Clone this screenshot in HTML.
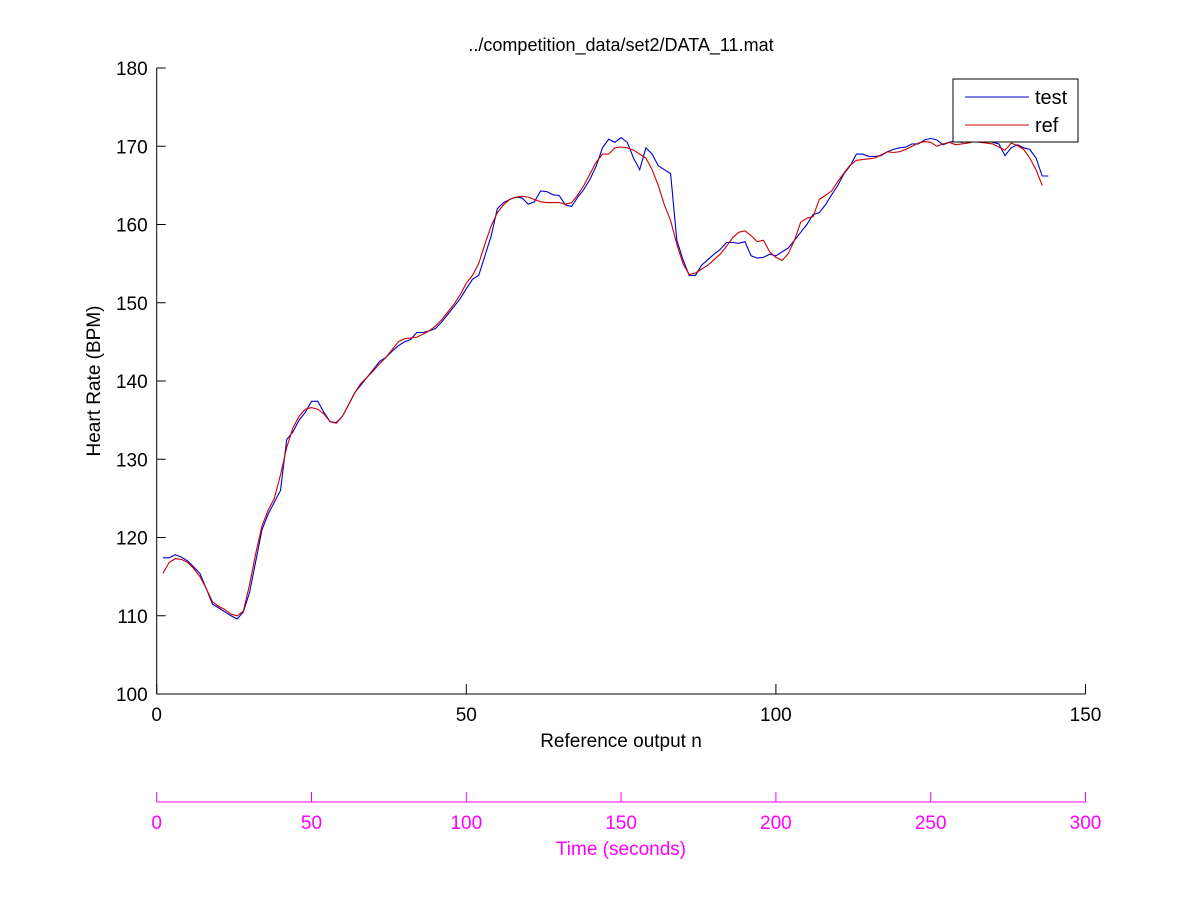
<!DOCTYPE html>
<html><head><meta charset="utf-8"><style>
body{margin:0;background:#fff}
svg text{font-family:"Liberation Sans",Arial,sans-serif}
</style></head><body>
<svg id="chart" width="1201" height="901" xmlns="http://www.w3.org/2000/svg" style="display:block">
<rect width="1201" height="901" fill="#fff"/>
<text x="621" y="51" font-size="18" text-anchor="middle">../competition_data/set2/DATA_11.mat</text>
<g id="axes"></g>
<g id="series"></g>
<g>
<rect x="953" y="79" width="125" height="63" fill="#fff" stroke="#000" stroke-width="1"/>
<line x1="965" y1="97" x2="1029" y2="97" stroke="#0000cc" stroke-width="1"/>
<text x="1035" y="104" font-size="20">test</text>
<line x1="965" y1="125" x2="1029" y2="125" stroke="#cc0000" stroke-width="1"/>
<text x="1035" y="132" font-size="20">ref</text>
</g>
</svg>
<script>
const xTicks=[0,50,100,150];
const yTicks=[100,110,120,130,140,150,160,170,180];
const timeTicks=[0,50,100,150,200,250,300];
const testValues=[117.4,117.4,117.8,117.5,117,116.2,115.4,113.5,111.5,111,110.5,110,109.6,110.5,113,117,121,123,124.5,126,132.5,133.5,135,136,137.4,137.4,136,134.8,134.7,135.5,137,138.5,139.5,140.5,141.5,142.5,143,143.8,144.5,145,145.3,146.2,146.2,146.4,146.7,147.5,148.5,149.5,150.5,151.8,153,153.5,156,158.5,162,162.8,163.2,163.5,163.4,162.6,162.9,164.3,164.2,163.8,163.7,162.5,162.3,163.5,164.5,165.8,167.5,169.8,170.9,170.5,171.1,170.5,168.5,167,169.8,169,167.5,167,166.5,158,155.5,153.5,153.5,154.8,155.5,156.2,156.8,157.7,157.7,157.6,157.8,156,155.7,155.8,156.2,156,156.5,157,158,159,160,161.3,161.5,162.5,163.8,165,166.5,167.5,169,169,168.7,168.7,168.8,169.3,169.6,169.8,169.9,170.3,170.3,170.8,171,170.8,170.2,170.5,170.7,170.5,170.6,170.8,171,170.9,170.5,170.3,168.8,169.8,170.2,169.8,169.6,168.5,166.2,166.2];
const refValues=[115.4,116.8,117.3,117.2,116.8,116,115,113.5,111.8,111.2,110.8,110.2,110,110.6,114,118,121.5,123.5,125,128,131.5,134,135.5,136.4,136.6,136.4,135.8,134.8,134.6,135.5,137,138.5,139.7,140.5,141.3,142.2,143,144,145,145.4,145.5,145.6,146,146.4,147,147.8,148.8,149.8,151,152.5,153.5,155,157.5,159.8,161.5,162.5,163.2,163.5,163.6,163.5,163.2,162.9,162.8,162.8,162.8,162.6,162.8,163.8,165,166.5,168,169,169,169.8,169.9,169.8,169.5,169,168.5,167,165,162.5,160.5,157.5,155,153.6,153.8,154.3,154.8,155.5,156.2,157.2,158.3,159,159.2,158.6,157.8,158,156.5,155.8,155.4,156.3,158,160.3,160.8,161,163.2,163.7,164.3,165.5,166.6,167.6,168.2,168.3,168.4,168.5,168.9,169.3,169.2,169.3,169.6,170,170.4,170.6,170.5,170,170.3,170.5,170.2,170.3,170.4,170.6,170.5,170.4,170.3,169.9,169.5,170.4,170.1,169.6,168.5,167,165];

const NS="http://www.w3.org/2000/svg";
const L=156.7,R=1085.5,T=68,B=694,TA=802;
const xs=v=>L+(v-0)/(150-0)*(R-L);
const ys=v=>B-(v-100)/(180-100)*(B-T);
const ts=v=>L+v/300*(R-L);
function mk(tag,attrs,parent){const e=document.createElementNS(NS,tag);for(const k in attrs)e.setAttribute(k,attrs[k]);parent.appendChild(e);return e;}
const ax=document.getElementById('axes');
let e;
e=mk('line',{x1:L,y1:T,x2:L,y2:B,stroke:'#000','stroke-width':1},ax);


e=mk('line',{x1:L,y1:B,x2:R,y2:B,stroke:'#000','stroke-width':1},ax);


yTicks.forEach(v=>{
 const y=ys(v);
 e=mk('line',{x1:L,y1:y,x2:L+9,y2:y,stroke:'#000'},ax);
 
 
 e=mk('text',{x:L-9,y:y+7,'font-size':19,'text-anchor':'end'},ax);
 e.textContent=v;
 
 
});
xTicks.forEach(v=>{
 const x=xs(v);
 e=mk('line',{x1:x,y1:B,x2:x,y2:B-10,stroke:'#000'},ax);
 
 
 e=mk('text',{x:x,y:B+27,'font-size':19,'text-anchor':'middle'},ax);
 e.textContent=v;
 
 
});
e=mk('text',{x:621,y:747,'font-size':19,'text-anchor':'middle'},ax);
e.textContent='Reference output n';


e=mk('text',{x:0,y:0,'font-size':19,'text-anchor':'middle',transform:'translate(100,381) rotate(-90)'},ax);
e.textContent='Heart Rate (BPM)';


e=mk('line',{x1:L,y1:TA,x2:R,y2:TA,stroke:'#ff00ff'},ax);


timeTicks.forEach(v=>{
 const x=ts(v);
 e=mk('line',{x1:x,y1:TA,x2:x,y2:TA-10,stroke:'#ff00ff'},ax);
 
 
 e=mk('text',{x:x,y:TA+27,'font-size':19,'text-anchor':'middle',fill:'#ff00ff'},ax);
 e.textContent=v;
 
 
});
e=mk('text',{x:621,y:855,'font-size':19,'text-anchor':'middle',fill:'#ff00ff'},ax);
e.textContent='Time (seconds)';


const sg=document.getElementById('series');
function path(vals){return vals.map((v,i)=>(i?'L':'M')+xs(i+1).toFixed(1)+','+ys(v).toFixed(1)).join('');}
e=mk('path',{d:path(testValues),fill:'none',stroke:'#0000cc','stroke-width':1.1},sg);


e=mk('path',{d:path(refValues),fill:'none',stroke:'#cc0000','stroke-width':1.1},sg);


</script>
</body></html>
